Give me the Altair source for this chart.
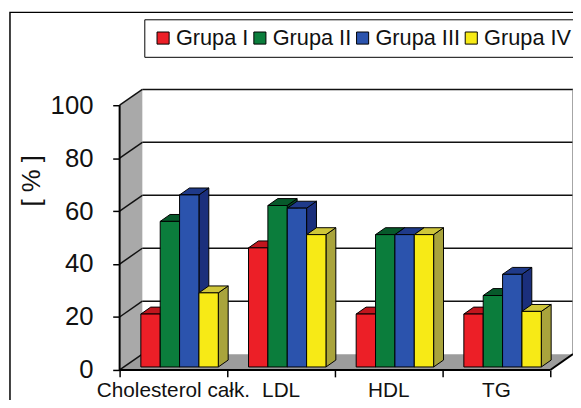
import altair as alt
import pandas as pd

# ---- data ----
categories = ["Cholesterol całk.", "LDL", "HDL", "TG"]
groups = ["Grupa I", "Grupa II", "Grupa III", "Grupa IV"]
grupa_1 = [20, 45, 20, 20]
grupa_2 = [55, 61, 50, 27]
grupa_3 = [65, 60, 50, 35]
grupa_4 = [28, 50, 50, 21]
y_ticks = [0, 20, 40, 60, 80, 100]

# ---- styles ----
front_colors = ["#ec1f27", "#0b7d3c", "#2b53ad", "#f7ea16"]
top_colors = ["#c0161e", "#07592b", "#1f3a8a", "#cfc63a"]
side_colors = ["#a01419", "#064a24", "#1b2f7c", "#a9a43c"]
FONT = "Liberation Sans"

# ---- 3D layout (pixels -> data units) ----
PX_X = 109.0      # px per category
PX_Y = 2.68       # px per percent
WALL_DX = 23 / PX_X
WALL_DY = 16 / PX_Y
BAR_START = 21.5 / PX_X
BAR_W = 19.6 / PX_X
BAR_DX = 10 / PX_X
BAR_DY = 7 / PX_Y
BAR_LIFT = 3 / PX_Y
N = len(categories)
X_MAX = N + WALL_DX
Y_MAX = 100 + WALL_DY

series = [grupa_1, grupa_2, grupa_3, grupa_4]
fronts, tops, sides = [], [], []
for ci, cat in enumerate(categories):
    for gi, g in enumerate(groups):
        v = series[gi][ci]
        xa = ci + BAR_START + gi * BAR_W
        xb = xa + BAR_W
        key = f"{ci}{gi}"
        fronts.append(dict(group=g, x=xa, x2=xb, y=BAR_LIFT, y2=BAR_LIFT + v))
        tops.append(dict(key=key, col=top_colors[gi], yy=BAR_LIFT + v, xl=xa, xr=xb))
        tops.append(dict(key=key, col=top_colors[gi], yy=BAR_LIFT + v + BAR_DY,
                         xl=xa + BAR_DX, xr=xb + BAR_DX))
        sides.append(dict(key=key, col=side_colors[gi], xx=xb, ylo=BAR_LIFT, yhi=BAR_LIFT + v))
        sides.append(dict(key=key, col=side_colors[gi], xx=xb + BAR_DX,
                          ylo=BAR_LIFT + BAR_DY, yhi=BAR_LIFT + v + BAR_DY))

fronts = pd.DataFrame(fronts)
tops = pd.DataFrame(tops)
sides = pd.DataFrame(sides)

floor = pd.DataFrame([dict(yy=0, xl=0, xr=N), dict(yy=WALL_DY, xl=WALL_DX, xr=N + WALL_DX)])
lwall = pd.DataFrame([dict(xx=0, ylo=0, yhi=100), dict(xx=WALL_DX, ylo=WALL_DY, yhi=100 + WALL_DY)])
back_grid = pd.DataFrame([dict(x=WALL_DX, x2=N + WALL_DX, y=t + WALL_DY, y2=t + WALL_DY)
                          for t in y_ticks if t > 0])
side_grid = pd.DataFrame([dict(x=0, x2=WALL_DX, y=t, y2=t + WALL_DY) for t in y_ticks])
edges = pd.DataFrame([
    dict(x=0, x2=N, y=0, y2=0),
    dict(x=N, x2=N + WALL_DX, y=0, y2=WALL_DY),
    dict(x=0, x2=0, y=0, y2=100),
])
right_edge = pd.DataFrame([dict(x=N + WALL_DX, x2=N + WALL_DX, y=WALL_DY, y2=100 + WALL_DY)])
labels = pd.DataFrame([dict(cat=c, x=i + 0.5, y=0) for i, c in enumerate(categories)])

xs = alt.Scale(domain=[0, X_MAX], nice=False, zero=False)
ys = alt.Scale(domain=[0, Y_MAX], nice=False, zero=False)

x_axis = alt.Axis(values=list(range(N + 1)), labels=False, domain=False, grid=False,
                  ticks=True, tickSize=7, tickColor="black", tickWidth=1.5, title=None)
y_axis = alt.Axis(values=y_ticks, domain=False, grid=False, tickSize=7, tickColor="black",
                  tickWidth=1.5, labelFontSize=26, labelFont=FONT, labelColor="#111",
                  labelPadding=20, title="[ % ]", titleFont=FONT, titleFontSize=26,
                  titleFontWeight="normal", titleColor="#111", titleX=-89, titleY=92,
                  titleAngle=270, titleAlign="center", titleBaseline="middle")


def X(f):
    return alt.X(f"{f}:Q", scale=xs, axis=x_axis)


def Y(f):
    return alt.Y(f"{f}:Q", scale=ys, axis=y_axis)


frame = alt.Chart(alt.Data(values=[{"a": 1}])).mark_rect(
    filled=False, stroke="black", strokeWidth=1.5
).encode(x=alt.value(-111), y=alt.value(-78), x2=alt.value(800), y2=alt.value(800))

wall_left = alt.Chart(lwall).mark_area(color="#a9a9a9", orient="vertical").encode(
    x=X("xx"), y=Y("ylo"), y2="yhi:Q",
)

floor_l = alt.Chart(floor).mark_area(color="#9c9c9c", orient="horizontal").encode(
    y=Y("yy"), x=X("xl"), x2="xr:Q"
)

grid_back = alt.Chart(back_grid).mark_rule(color="#111", strokeWidth=1.5).encode(
    x=X("x"), x2="x2:Q", y=Y("y"), y2="y2:Q"
)
grid_side = alt.Chart(side_grid).mark_rule(color="#111", strokeWidth=1.5).encode(
    x=X("x"), x2="x2:Q", y=Y("y"), y2="y2:Q"
)
edge_right = alt.Chart(right_edge).mark_rule(color="#888", strokeWidth=1.5).encode(
    x=X("x"), x2="x2:Q", y=Y("y"), y2="y2:Q"
)
edge_l = alt.Chart(edges).mark_rule(color="black", strokeWidth=2).encode(
    x=X("x"), x2="x2:Q", y=Y("y"), y2="y2:Q"
)

side_l = alt.Chart(sides).mark_area(orient="vertical", stroke="black", strokeWidth=1).encode(
    x=X("xx"), y=Y("ylo"), y2="yhi:Q", detail="key:N",
    fill=alt.Fill("col:N", scale=None),
)
top_l = alt.Chart(tops).mark_area(orient="horizontal", stroke="black", strokeWidth=1).encode(
    y=Y("yy"), x=X("xl"), x2="xr:Q", detail="key:N",
    fill=alt.Fill("col:N", scale=None),
)
front_l = alt.Chart(fronts).mark_rect(stroke="black", strokeWidth=1).encode(
    x=X("x"), x2="x2:Q", y=Y("y"), y2="y2:Q",
    color=alt.Color("group:N", sort=groups,
                    scale=alt.Scale(domain=groups, range=front_colors),
                    legend=alt.Legend(orient="none", legendX=25, legendY=-71,
                                      direction="horizontal", title=None,
                                      strokeColor="black", fillColor="white", padding=8,
                                      labelFontSize=22, labelFont=FONT, labelColor="#111",
                                      symbolType="square", symbolSize=150,
                                      symbolStrokeColor="black", symbolStrokeWidth=1,
                                      symbolOpacity=1, labelOffset=2, columnPadding=0)),
)

text_l = alt.Chart(labels).mark_text(
    font=FONT, fontSize=21, color="#111", baseline="alphabetic", align="center", dy=27
).encode(x=X("x"), y=Y("y"), text="cat:N")

chart = alt.layer(
    wall_left, floor_l, grid_back, grid_side, edge_right, edge_l,
    side_l, top_l, front_l, text_l, frame
).properties(
    width=round(PX_X * X_MAX), height=round(PX_Y * Y_MAX),
    autosize=alt.AutoSizeParams(type="none"),
    padding={"left": 113, "top": 80, "right": 0, "bottom": 28},
    background="white",
).configure_view(stroke=None)

chart.save("out.html", embed_options={"renderer": "svg", "actions": False})
